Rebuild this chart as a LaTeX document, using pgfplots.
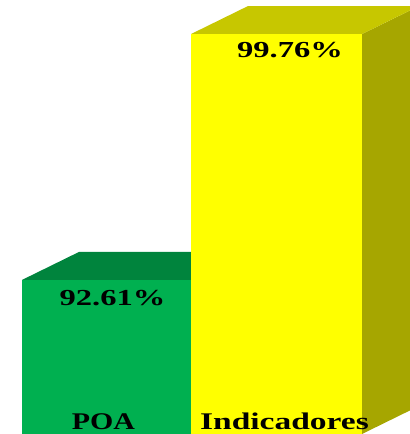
\documentclass[border=0pt]{standalone}
\usepackage{pgfplots}
\pgfplotsset{compat=1.18}
\usepackage{fontspec}
\setmainfont{Liberation Serif}
\definecolor{gfront}{RGB}{0,176,80}
\definecolor{gtop}{RGB}{0,132,61}
\definecolor{yfront}{RGB}{255,255,0}
\definecolor{ytop}{RGB}{199,199,0}
\definecolor{yside}{RGB}{166,166,0}
\begin{document}
\begin{tikzpicture}
\begin{axis}[
  scale only axis, width=410bp, height=434bp,
  xmin=0, xmax=410, ymin=88.13, ymax=100.75,
  hide axis, clip=true,
]
% green bar (POA) 92.61
\addplot[fill=gtop, draw=none] coordinates {(22,92.61) (191,92.61) (248,93.424) (79,93.424)} -- cycle;
\addplot[ybar, bar width=169, fill=gfront, draw=none] coordinates {(106.5,92.61)};
% yellow bar (Indicadores) 99.76
\addplot[fill=yside, draw=none] coordinates {(362,88.13) (410,88.8155) (410,100.4455) (362,99.76)} -- cycle;
\addplot[fill=ytop, draw=none] coordinates {(191,99.76) (362,99.76) (410,100.4455) (410,100.574) (248,100.574)} -- cycle;
\addplot[ybar, bar width=171, fill=yfront, draw=none] coordinates {(276.5,99.76)};
\node[anchor=base, font=\bfseries\fontsize{23}{23}\selectfont, xscale=1.42] at (axis cs:112.5,91.88) {92.61\%};
\node[anchor=base, font=\bfseries\fontsize{23}{23}\selectfont, xscale=1.42] at (axis cs:290,99.09) {99.76\%};
\node[anchor=base, font=\bfseries\fontsize{24}{24}\selectfont, xscale=1.25] at (axis cs:103.5,88.25) {POA};
\node[anchor=base, font=\bfseries\fontsize{24}{24}\selectfont, xscale=1.4] at (axis cs:284.5,88.275) {Indicadores};
\end{axis}
\pgfresetboundingbox
\path (current axis.south west) rectangle (current axis.north east);
\end{tikzpicture}
\end{document}
